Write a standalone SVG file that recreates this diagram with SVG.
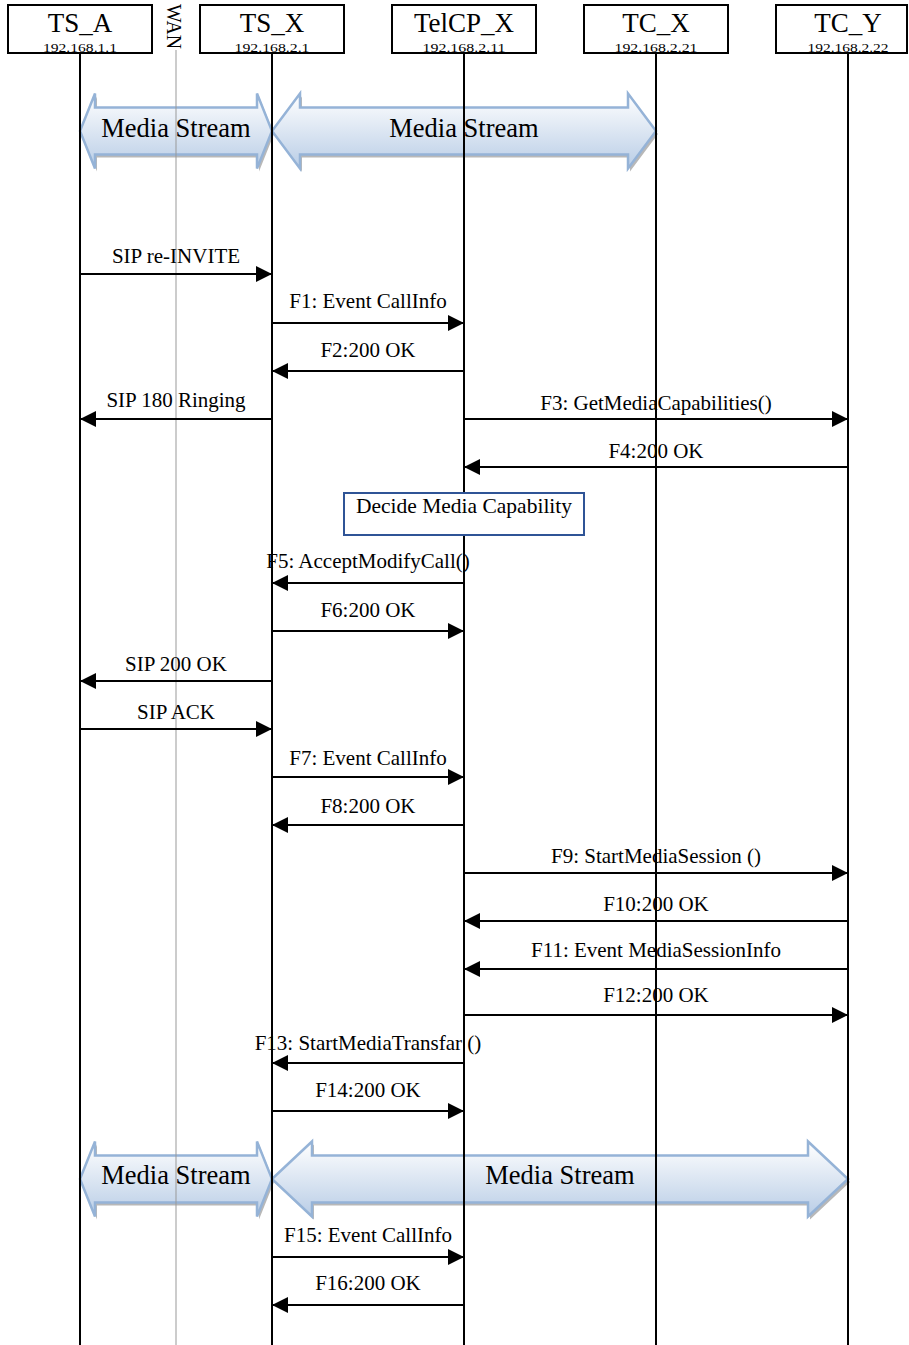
<svg xmlns="http://www.w3.org/2000/svg" width="909" height="1345" viewBox="0 0 909 1345">
<style>
.box{fill:#fff;stroke:#000;stroke-width:2}
.life{stroke:#000;stroke-width:2;fill:none}
.wan{stroke:#999;stroke-width:1;fill:none}
.name{font-family:"Liberation Serif","Times New Roman",serif;font-size:27px;fill:#000;text-anchor:middle}
.ip{font-family:"Liberation Serif","Times New Roman",serif;font-size:12px;fill:#000;text-anchor:middle}
.lbl{font-family:"Liberation Serif","Times New Roman",serif;font-size:21px;fill:#000;text-anchor:middle}
.ms{font-family:"Liberation Serif","Times New Roman",serif;font-size:26.5px;fill:#000;text-anchor:middle}
.msg{stroke:#000;stroke-width:2;fill:none;marker-end:url(#ah)}
.sarrow{fill:url(#grad);stroke:#95b3d7;stroke-width:2.5;stroke-linejoin:miter}
.shadow{fill:#9a9a9a;opacity:0.7}
.note{fill:#fff;stroke:#2f5496;stroke-width:2}
</style>
<defs>
<marker id="ah" markerUnits="userSpaceOnUse" markerWidth="16" markerHeight="16" refX="16" refY="8" orient="auto">
<path d="M0,0 L16,8 L0,16 Z" fill="#000"/>
</marker>
<linearGradient id="grad" x1="0" y1="0" x2="0" y2="1">
<stop offset="0" stop-color="#ffffff"/>
<stop offset="1" stop-color="#b9cde6"/>
</linearGradient>
</defs>
<rect width="909" height="1345" fill="#fff"/>

<g id="media-streams">
<path class="shadow" d="M82,134 L97,96.5 L97,110.5 L259,110.5 L259,96.5 L274,134 L259,171.5 L259,157.5 L97,157.5 L97,171.5 Z"/>
<path class="sarrow" d="M80,131 L95,93.5 L95,107.5 L257,107.5 L257,93.5 L272,131 L257,168.5 L257,154.5 L95,154.5 L95,168.5 Z"/>
<path class="shadow" d="M274,134 L302,96.5 L302,110.5 L630,110.5 L630,96.5 L658,134 L630,171.5 L630,157.5 L302,157.5 L302,171.5 Z"/>
<path class="sarrow" d="M272,131 L300,93.5 L300,107.5 L628,107.5 L628,93.5 L656,131 L628,168.5 L628,154.5 L300,154.5 L300,168.5 Z"/>
<text class="ms" x="176" y="137">Media Stream</text>
<text class="ms" x="464" y="137">Media Stream</text>

<path class="shadow" d="M82,1182 L97,1144.5 L97,1158.5 L259,1158.5 L259,1144.5 L274,1182 L259,1219.5 L259,1205.5 L97,1205.5 L97,1219.5 Z"/>
<path class="sarrow" d="M80,1179 L95,1141.5 L95,1155.5 L257,1155.5 L257,1141.5 L272,1179 L257,1216.5 L257,1202.5 L95,1202.5 L95,1216.5 Z"/>
<path class="shadow" d="M274,1182 L314,1144.5 L314,1158.5 L810,1158.5 L810,1144.5 L850,1182 L810,1219.5 L810,1205.5 L314,1205.5 L314,1219.5 Z"/>
<path class="sarrow" d="M272,1179 L312,1141.5 L312,1155.5 L808,1155.5 L808,1141.5 L848,1179 L808,1216.5 L808,1202.5 L312,1202.5 L312,1216.5 Z"/>
<text class="ms" x="176" y="1184">Media Stream</text>
<text class="ms" x="560" y="1184">Media Stream</text>
</g>

<g id="wan">
<line class="wan" x1="176" y1="50" x2="176" y2="1345"/>
<text font-family="Liberation Serif, Times New Roman, serif" font-size="21" fill="#000" transform="translate(167,4) rotate(90)" textLength="45" lengthAdjust="spacingAndGlyphs">WAN</text>
</g>

<g id="TS_A">
<rect class="box" x="8" y="5" width="144" height="48"/>
<line class="life" x1="80" y1="53" x2="80" y2="1345"/>
<text class="name" x="80" y="32">TS_A</text>
<text class="ip" x="80" y="52" textLength="74" lengthAdjust="spacingAndGlyphs">192.168.1.1</text>
</g>
<g id="TS_X">
<rect class="box" x="200" y="5" width="144" height="48"/>
<line class="life" x1="272" y1="53" x2="272" y2="1345"/>
<text class="name" x="272" y="32">TS_X</text>
<text class="ip" x="272" y="52" textLength="75" lengthAdjust="spacingAndGlyphs">192.168.2.1</text>
</g>
<g id="TelCP_X">
<rect class="box" x="392" y="5" width="144" height="48"/>
<line class="life" x1="464" y1="53" x2="464" y2="1345"/>
<text class="name" x="464" y="32">TelCP_X</text>
<text class="ip" x="464" y="52" textLength="83" lengthAdjust="spacingAndGlyphs">192.168.2.11</text>
</g>
<g id="TC_X">
<rect class="box" x="584" y="5" width="144" height="48"/>
<line class="life" x1="656" y1="53" x2="656" y2="1345"/>
<text class="name" x="656" y="32">TC_X</text>
<text class="ip" x="656" y="52" textLength="83" lengthAdjust="spacingAndGlyphs">192.168.2.21</text>
</g>
<g id="TC_Y">
<rect class="box" x="776" y="5" width="131" height="48"/>
<line class="life" x1="848" y1="53" x2="848" y2="1345"/>
<text class="name" x="848" y="32">TC_Y</text>
<text class="ip" x="848" y="52" textLength="81" lengthAdjust="spacingAndGlyphs">192.168.2.22</text>
</g>

<g id="decide">
<rect class="note" x="344" y="493" width="240" height="42"/>
<text class="lbl" x="464" y="513" style="font-size:21.5px">Decide Media Capability</text>
</g>

<g id="connectors">
<line class="msg" x1="80" y1="274" x2="272" y2="274"/>
<text class="lbl" x="176" y="263">SIP re-INVITE</text>
<line class="msg" x1="272" y1="323" x2="464" y2="323"/>
<text class="lbl" x="368" y="308">F1: Event CallInfo</text>
<line class="msg" x1="464" y1="371" x2="272" y2="371"/>
<text class="lbl" x="368" y="357">F2:200 OK</text>
<line class="msg" x1="272" y1="419" x2="80" y2="419"/>
<text class="lbl" x="176" y="407">SIP 180 Ringing</text>
<line class="msg" x1="464" y1="419" x2="848" y2="419"/>
<text class="lbl" x="656" y="410">F3: GetMediaCapabilities()</text>
<line class="msg" x1="848" y1="467" x2="464" y2="467"/>
<text class="lbl" x="656" y="458">F4:200 OK</text>
<line class="msg" x1="464" y1="583" x2="272" y2="583"/>
<text class="lbl" x="368" y="568">F5: AcceptModifyCall()</text>
<line class="msg" x1="272" y1="631" x2="464" y2="631"/>
<text class="lbl" x="368" y="617">F6:200 OK</text>
<line class="msg" x1="272" y1="681" x2="80" y2="681"/>
<text class="lbl" x="176" y="671">SIP 200 OK</text>
<line class="msg" x1="80" y1="729" x2="272" y2="729"/>
<text class="lbl" x="176" y="719">SIP ACK</text>
<line class="msg" x1="272" y1="777" x2="464" y2="777"/>
<text class="lbl" x="368" y="765">F7: Event CallInfo</text>
<line class="msg" x1="464" y1="825" x2="272" y2="825"/>
<text class="lbl" x="368" y="813">F8:200 OK</text>
<line class="msg" x1="464" y1="873" x2="848" y2="873"/>
<text class="lbl" x="656" y="863">F9: StartMediaSession ()</text>
<line class="msg" x1="848" y1="921" x2="464" y2="921"/>
<text class="lbl" x="656" y="911">F10:200 OK</text>
<line class="msg" x1="848" y1="969" x2="464" y2="969"/>
<text class="lbl" x="656" y="957">F11: Event MediaSessionInfo</text>
<line class="msg" x1="464" y1="1015" x2="848" y2="1015"/>
<text class="lbl" x="656" y="1002">F12:200 OK</text>
<line class="msg" x1="464" y1="1063" x2="272" y2="1063"/>
<text class="lbl" x="368" y="1050">F13: StartMediaTransfar ()</text>
<line class="msg" x1="272" y1="1111" x2="464" y2="1111"/>
<text class="lbl" x="368" y="1097">F14:200 OK</text>
<line class="msg" x1="272" y1="1257" x2="464" y2="1257"/>
<text class="lbl" x="368" y="1242">F15: Event CallInfo</text>
<line class="msg" x1="464" y1="1305" x2="272" y2="1305"/>
<text class="lbl" x="368" y="1290">F16:200 OK</text>
</g>
</svg>
